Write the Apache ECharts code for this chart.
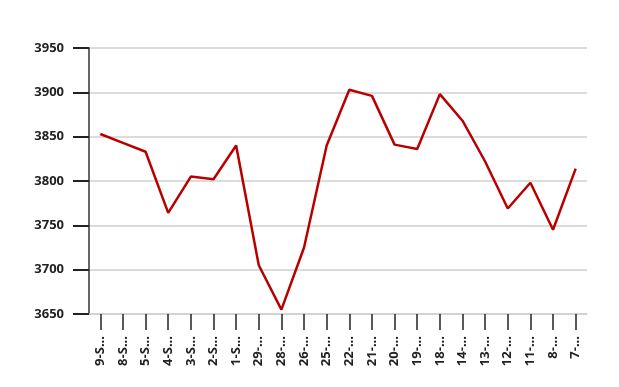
<!DOCTYPE html>
<html><head><meta charset="utf-8">
<script src="https://cdn.jsdelivr.net/npm/echarts@6/dist/echarts.min.js"></script>
<style>html,body{margin:0;padding:0;background:#fff}#c{width:619px;height:387px}</style>
</head><body><div id="c"></div>
<script>
var categories = ["9-S...","8-S...","5-S...","4-S...","3-S...","2-S...","1-S...","29-...","28-...","26-...","25-...","22-...","21-...","20-...","19-...","18-...","14-...","13-...","12-...","11-...","8-...","7-..."];
var values = [3853,3843,3833,3764,3805,3802,3840,3705,3655,3725,3840,3903,3896,3841,3836,3898,3868,3822,3769,3798,3745,3814];
var yTicks = [3650,3700,3750,3800,3850,3900,3950];

var chart = echarts.init(document.getElementById('c'), null, {renderer:'canvas'});
chart.setOption({
  animation:false,
  grid:{left:89,right:32,top:48,bottom:73,containLabel:false},
  xAxis:{type:'category',data:categories,boundaryGap:true,
    axisLine:{show:true,lineStyle:{color:'#d0d0d0',width:1.5}},
    axisTick:{show:true,inside:false,alignWithLabel:true,length:16,lineStyle:{color:'#222',width:1.5,opacity:1}},
    axisLabel:{rotate:90,interval:0,margin:22,fontFamily:'Open Sans',fontWeight:'bold',fontSize:13,color:'#222'}},
  yAxis:{type:'value',min:yTicks[0],max:yTicks[yTicks.length-1],interval:50,
    axisLine:{show:true,onZero:false,lineStyle:{color:'#333',width:1.5}},
    axisTick:{show:true,inside:false,length:16,lineStyle:{color:'#222',width:2,opacity:1}},
    splitLine:{lineStyle:{color:'#d0d0d0',width:1.5}},
    axisLabel:{margin:25,fontFamily:'Open Sans',fontWeight:'bold',fontSize:13,color:'#222',formatter:function(v){return String(v);}}},
  series:[{type:'line',data:values,symbol:'none',lineStyle:{color:'#b80000',width:2.5}}]
});
</script></body></html>
